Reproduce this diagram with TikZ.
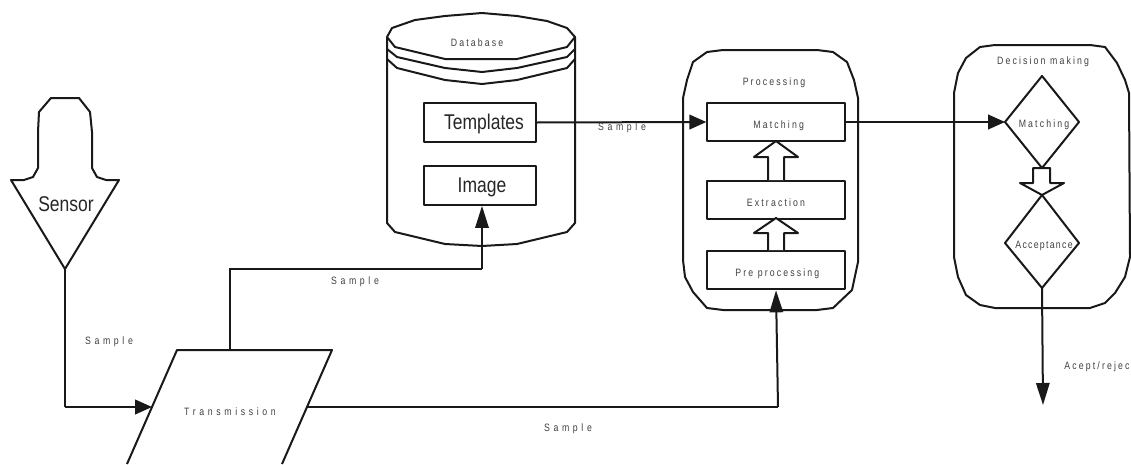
\documentclass[tikz,border=0pt]{standalone}
\usepackage{fontspec}
\setmainfont{Liberation Sans}
\newfontfamily\widefont[FakeStretch=0.82,LetterSpace=34]{Liberation Sans}
\newfontfamily\spacedfont[FakeStretch=0.82,LetterSpace=20]{Liberation Sans}
\newfontfamily\closefont[FakeStretch=0.82,LetterSpace=12]{Liberation Sans}
\newfontfamily\tallfont[FakeStretch=0.82]{Liberation Sans}
\usetikzlibrary{arrows.meta}
\tikzset{every picture/.style={line width=0.75pt}}
\tikzset{
  outline/.style={draw=black!90,line width=1.5pt,line join=round},
  plain/.style={draw=black!90,line width=1.5pt},
  link/.style={plain,-{Triangle[length=12.75pt,width=11pt]}},
  longlink/.style={plain,-{Triangle[length=16.5pt,width=10pt]}},
  small/.style={inner sep=0.75pt,font=\spacedfont\fontsize{8}{9}\selectfont,text=black!75},
  wide/.style={small,font=\widefont\fontsize{8}{9}\selectfont},
  big/.style={inner sep=0.75pt,font=\tallfont\fontsize{16}{18}\selectfont,text=black!85},
  stepbox/.style={outline,minimum width=103pt,minimum height=29pt,inner sep=0pt,text height=9pt,text depth=0pt,font=\spacedfont\fontsize{8}{9}\selectfont,text=black!75},
  dbbox/.style={outline,minimum width=84pt,minimum height=29pt,inner sep=0pt,text height=10pt,text depth=0pt,font=\tallfont\fontsize{16}{18}\selectfont,text=black!85}
}
\begin{document}
\begin{tikzpicture}[x=0.75pt,y=0.75pt,yscale=-1,xscale=1]
\useasboundingbox (0,0) rectangle (1131,464);

% Sensor
\draw [outline] (51,98) -- (79,98) -- (90,112) -- (92,132) -- (92,168) -- (97,177) -- (106,180) -- (119,180) -- (65,269) -- (11,180) -- (24,180) -- (33,177) -- (38,168) -- (38,132) -- (39,112) -- cycle ;
\coordinate (sensorTip) at (65,269);
\node (sensor) [big] at (66,204) {Sensor};

% Transmission
\begin{scope}
\clip (0,0) rectangle (1131,464);
\draw [outline] (127,464) -- (177,350) -- (332,350) -- (282,464) ;
\end{scope}
\coordinate (transLeft) at (152,407);
\coordinate (transTop) at (230,350);
\coordinate (transRight) at (307,407);
\node (transmission) [wide] at (230,412) {Transmission};

% Database
\draw [outline] (387,37) -- (392,28) -- (415,20) -- (445,16) -- (482,13) -- (517,16) -- (547,21) -- (567,28) -- (575,37) -- (567,47) -- (517,59) -- (445,59) -- (395,47) -- cycle ;
\draw [outline] (387,49) -- (397,57) -- (445,68) -- (482,72) -- (517,68) -- (567,57) -- (575,49) ;
\draw [outline] (387,59) -- (397,68) -- (445,80) -- (482,84) -- (517,80) -- (567,68) -- (575,59) ;
\draw [outline] (387,37) -- (387,223) -- (395,232) -- (445,244) -- (482,246) -- (517,244) -- (567,232) -- (575,223) -- (575,37) ;
\node (database) [small] at (477,43) {Database};
\node (templates) [dbbox] at (480,122.5) {\hspace*{6pt}Templates};
\node (image) [dbbox] at (480,185.5) {\hspace*{3pt}Image};

% Processing
\draw [outline] (723,50) -- (817,50) -- (833,52) -- (847,62) -- (854,80) -- (858,98) -- (858,262) -- (852,290) -- (833,308) -- (817,310) -- (723,310) -- (707,308) -- (693,292) -- (685,277) -- (683,260) -- (683,98) -- (687,80) -- (693,62) -- (707,52) -- cycle ;
\node (processing) [small] at (774,83) {Processing};
\node (matching) [stepbox] at (776,122) {\hspace*{4pt}Matching};
\node (extraction) [stepbox] at (776,200) {Extraction};
\node (preprocessing) [stepbox] at (776,270) {\hspace*{2pt}Pre processing};
\draw [outline,fill=white] (768,180) -- (768,157) -- (754,157) -- (776,141) -- (798,157) -- (784,157) -- (784,180) ;
\draw [outline,fill=white] (768,250) -- (768,233) -- (754,233) -- (776,218) -- (798,233) -- (784,233) -- (784,250) ;

% Decision making
\draw [outline] (995,45) -- (1090,45) -- (1105,47) -- (1117,63) -- (1125,80) -- (1129,93) -- (1130,257) -- (1125,277) -- (1115,293) -- (1105,303) -- (1090,308) -- (995,308) -- (980,305) -- (966,295) -- (958,277) -- (954,257) -- (954,93) -- (958,73) -- (966,58) -- (980,47) -- cycle ;
\node (decision) [small] at (1043,62) {Decision making};
\draw [outline] (1042,76) -- (1079,122) -- (1042,168) -- (1005,122) -- cycle ;
\coordinate (matchLeft) at (1005,122);
\node (matchtwo) [small] at (1044,125) {Matching};
\draw [outline,fill=white] (1033,168) -- (1050,168) -- (1050,183) -- (1064,183) -- (1042,195) -- (1020,183) -- (1033,183) -- cycle ;
\draw [outline] (1042,195) -- (1079,243) -- (1042,288) -- (1005,243) -- cycle ;
\coordinate (acceptBottom) at (1042,288);
\node (acceptance) [small,font=\closefont\fontsize{8}{9}\selectfont] at (1044,246) {Acceptance};

% Links
\coordinate (sensorCorner) at (65,407);
\coordinate (imageFoot) at (482,269);
\coordinate (preFoot) at (778,407);
\draw [plain] (sensorTip) -- (sensorCorner) ;
\draw [link] (sensorCorner) -- (transLeft) ;
\draw [plain] (transTop) -- (230,269) -- (imageFoot) ;
\draw [longlink] (imageFoot) -- (imageFoot |- image.south) ;
\draw [plain] (transRight) -- (preFoot) ;
\draw [longlink] (preFoot) -- (preprocessing.south) ;
\draw [link] (templates.east) -- (matching.west) ;
\draw [link] (matching.east) -- (matchLeft) ;
\coordinate (acceptEnd) at (1043,405);
\draw [longlink] (acceptBottom) -- (acceptEnd) ;

% Labels
\node (sampleA) [wide] at (109,342) {Sample};
\node (sampleB) [wide] at (355,282) {Sample};
\node (sampleC) [wide] at (622,128) {Sample};
\node (sampleD) [wide] at (568,429) {Sample};
\node (accept) [small,anchor=east] at (1131,367) {Acept/rejec};
\end{tikzpicture}
\end{document}
